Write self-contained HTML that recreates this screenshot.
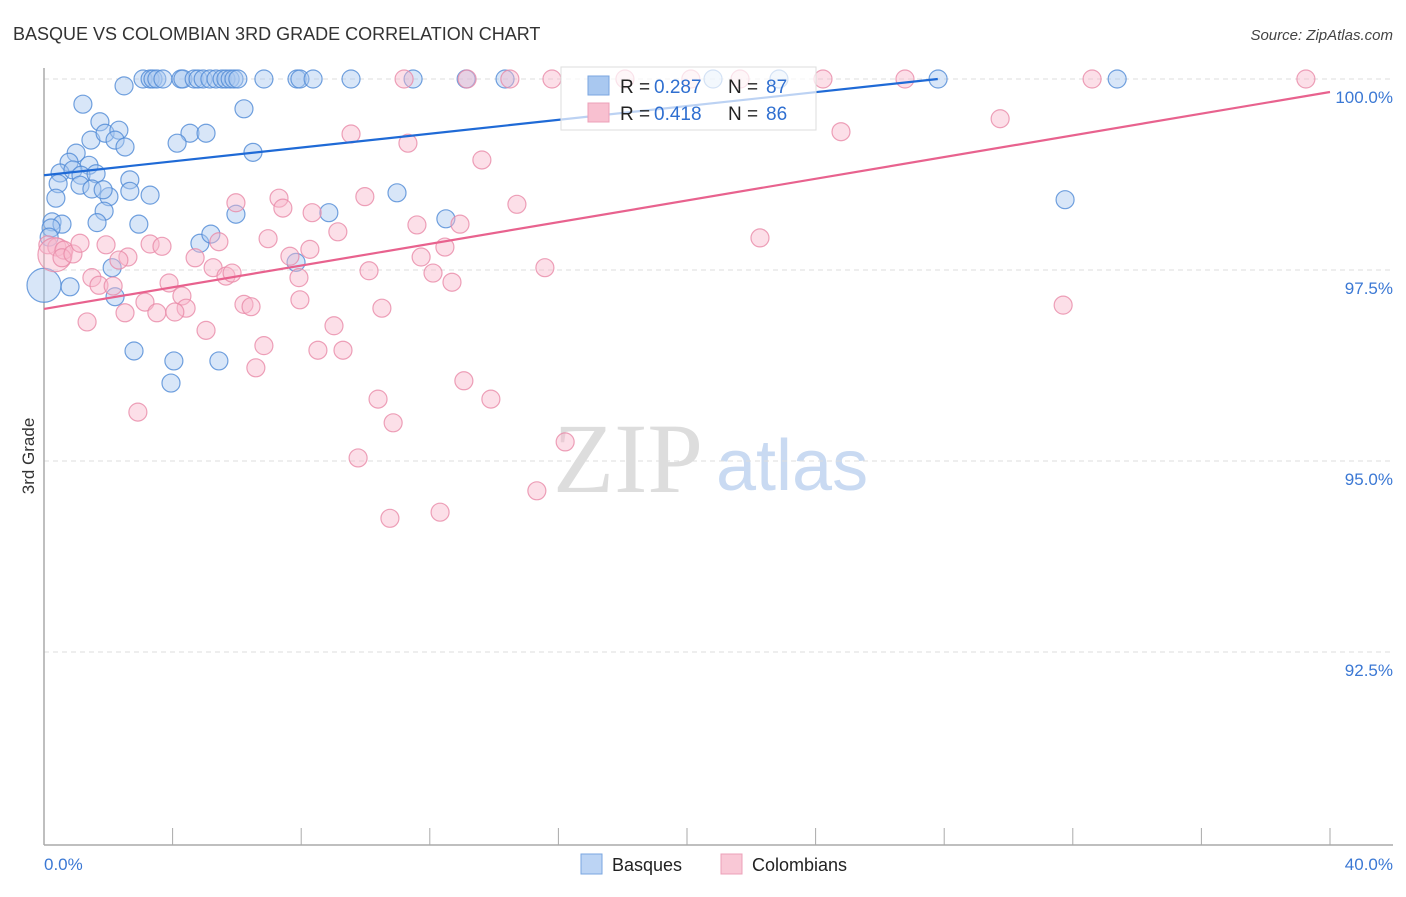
<!DOCTYPE html>
<html><head><meta charset="utf-8"><style>
body{margin:0;background:#fff;font-family:"Liberation Sans",sans-serif;}
svg text{font-family:"Liberation Sans",sans-serif;}
</style></head><body>
<svg id="chart" width="1406" height="892" viewBox="0 0 1406 892" xmlns="http://www.w3.org/2000/svg">
<text x="13" y="40" font-size="18" fill="#333">BASQUE VS COLOMBIAN 3RD GRADE CORRELATION CHART</text>
<text x="1393" y="40" font-size="15" fill="#444" text-anchor="end" font-style="italic">Source: ZipAtlas.com</text>
<text x="553" y="492" font-size="100" fill="#ddd" font-family="Liberation Serif" style="font-family:'Liberation Serif',serif">ZIP</text>
<text x="716" y="490" font-size="72" fill="#c9daf2">atlas</text>
<text transform="translate(34,456) rotate(-90)" font-size="17" fill="#333" text-anchor="middle">3rd Grade</text>
<g id="grid"></g><g id="axes"></g><g id="pts"></g><g id="trends"></g>
<g>
<rect x="561" y="67" width="255" height="63" fill="#fff" fill-opacity="0.7" stroke="#ddd"/>
<rect x="588" y="76" width="21" height="19" fill="#a9c8f0" stroke="#7aa6e0"/>
<rect x="588" y="103" width="21" height="19" fill="#f8c0d0" stroke="#eca0b8"/>
<text x="620" y="93" font-size="19" fill="#222">R =</text>
<text x="654" y="93" font-size="19" fill="#2f6fd0">0.287</text>
<text x="728" y="93" font-size="19" fill="#222">N =</text>
<text x="766" y="93" font-size="19" fill="#2f6fd0">87</text>
<text x="620" y="120" font-size="19" fill="#222">R =</text>
<text x="654" y="120" font-size="19" fill="#2f6fd0">0.418</text>
<text x="728" y="120" font-size="19" fill="#222">N =</text>
<text x="766" y="120" font-size="19" fill="#2f6fd0">86</text>
</g>
<g>
<rect x="581" y="854" width="21" height="20" fill="#bcd4f4" stroke="#7aa6e0"/>
<text x="612" y="871" font-size="18" fill="#222">Basques</text>
<rect x="721" y="854" width="21" height="20" fill="#f9c8d6" stroke="#eca0b8"/>
<text x="752" y="871" font-size="18" fill="#222">Colombians</text>
</g>
</svg>
<script>
const blueX=[3.08,3.30,3.39,3.51,3.70,4.26,4.32,4.67,4.79,4.95,5.16,5.35,5.54,5.66,5.79,5.91,6.03,6.84,7.87,7.96,8.37,9.55,11.48,13.13,14.34,20.81,22.86,27.81,33.38,2.49,1.21,6.22,1.74,1.46,1.90,2.33,2.21,2.52,1.00,4.54,5.04,4.14,6.50,1.40,0.78,0.50,0.90,1.15,1.62,0.44,1.12,1.49,2.02,1.84,2.67,2.67,3.30,0.37,1.87,1.65,2.95,5.97,0.25,0.56,0.22,0.16,4.85,5.19,0.81,2.12,2.21,0,2.80,4.04,5.44,3.95,7.84,8.86,10.98,12.50,31.76];
const blueY=[100,100,100,100,100,100,100,100,100,100,100,100,100,100,100,100,100,100,100,100,100,100,100,100,100,100,100,100,100,99.91,99.67,99.61,99.44,99.20,99.29,99.33,99.20,99.11,99.03,99.29,99.29,99.16,99.04,98.87,98.91,98.77,98.81,98.74,98.76,98.63,98.61,98.56,98.46,98.55,98.68,98.53,98.48,98.44,98.27,98.12,98.10,98.23,98.13,98.10,98.05,97.93,97.85,97.97,97.28,97.53,97.15,97.30,96.44,96.31,96.31,96.02,97.60,98.25,98.51,98.17,98.42];
const pinkX=[11.20,13.16,14.49,15.80,18.07,20.12,21.65,24.23,26.78,32.60,39.25,9.55,11.32,13.62,24.79,29.74,14.71,9.98,5.97,7.31,7.43,8.34,11.60,12.94,9.14,6.97,8.27,7.65,12.47,11.73,15.58,10.11,12.10,12.69,22.27,31.70,0.12,0.40,0.34,0.62,0.56,0.90,1.12,1.93,3.30,3.67,5.44,4.70,5.26,5.66,5.85,2.61,2.33,1.49,1.71,2.15,3.89,4.29,4.42,3.14,3.51,4.07,6.22,6.44,7.93,7.96,2.52,1.34,5.04,10.51,9.02,6.84,6.59,8.52,9.30,13.06,13.90,10.39,2.92,10.86,9.77,16.21,15.33,12.32,10.76];
const pinkY=[100,100,100,100,100,100,100,100,100,100,100,99.28,99.16,98.94,99.31,99.48,98.36,98.46,98.38,98.44,98.31,98.25,98.09,98.10,98.00,97.91,97.77,97.68,97.80,97.67,97.53,97.49,97.46,97.34,97.92,97.04,97.83,97.80,97.70,97.76,97.66,97.71,97.85,97.83,97.84,97.81,97.87,97.66,97.53,97.42,97.46,97.67,97.63,97.40,97.30,97.29,97.33,97.16,97.00,97.08,96.94,96.95,97.05,97.02,97.40,97.11,96.94,96.82,96.71,97.00,96.77,96.51,96.22,96.45,96.45,96.05,95.81,95.81,95.64,95.50,95.04,95.25,94.61,94.33,94.25];
const blueTrend=[0,98.74,27.8,100.0];
const pinkTrend=[0,96.99,40,99.83];
const yTicks=[100,97.5,95,92.5];
const yTickLabels=["100.0%","97.5%","95.0%","92.5%"];
const xTicks=[0,4,8,12,16,20,24,28,32,36,40];
const NS="http://www.w3.org/2000/svg";
const X0=44,XS=32.15,Y0=79,YS=76.4;
function sx(v){return X0+v*XS;}
function sy(v){return Y0+(100-v)*YS;}
function mk(tag,attrs,parent){const e=document.createElementNS(NS,tag);for(const k in attrs)e.setAttribute(k,attrs[k]);document.getElementById(parent).appendChild(e);return e;}
yTicks.forEach((t,i)=>{
  const l=mk('line',{x1:44,x2:1393,y1:sy(t),y2:sy(t),stroke:'#ddd','stroke-dasharray':'5,4'},'grid');
  
  
  const tx=mk('text',{x:1393,y:sy(t)+24,'font-size':17,fill:'#3b78d4','text-anchor':'end'},'grid');
  tx.textContent=yTickLabels[i];
  
  
});
const ya=mk('line',{x1:44,x2:44,y1:68,y2:845,stroke:'#aaa','stroke-width':1.5},'axes');


const xa=mk('line',{x1:44,x2:1393,y1:845,y2:845,stroke:'#aaa','stroke-width':1.5},'axes');


xTicks.forEach(t=>{
  const l=mk('line',{x1:sx(t),x2:sx(t),y1:828,y2:845,stroke:'#aaa'},'axes');
  
  
});
const xl0=mk('text',{x:44,y:870,'font-size':17,fill:'#3b78d4'},'axes');xl0.textContent='0.0%';


const xl1=mk('text',{x:1393,y:870,'font-size':17,fill:'#3b78d4','text-anchor':'end'},'axes');xl1.textContent='40.0%';


function pts(xs,ys,fill,stroke,name,bigIdx){
  xs.forEach((x,i)=>{
    const c=mk('circle',{cx:sx(x),cy:sy(ys[i]),r:i===bigIdx?17:9,fill:fill,'fill-opacity':0.45,stroke:stroke,'stroke-opacity':0.8,'stroke-width':1.2},'pts');
    
    
  });
}
pts(blueX,blueY,'#a9c8f0','#4f8ad6','basques-point',71);
pts(pinkX,pinkY,'#f8b9cb','#e88aa8','colombians-point',38);
const bt=mk('line',{x1:sx(blueTrend[0]),y1:sy(blueTrend[1]),x2:sx(blueTrend[2]),y2:sy(blueTrend[3]),stroke:'#1f6ad6','stroke-width':2.2},'trends');


const pt=mk('line',{x1:sx(pinkTrend[0]),y1:sy(pinkTrend[1]),x2:sx(pinkTrend[2]),y2:sy(pinkTrend[3]),stroke:'#e8628e','stroke-width':2.2},'trends');


</script>
</body></html>
